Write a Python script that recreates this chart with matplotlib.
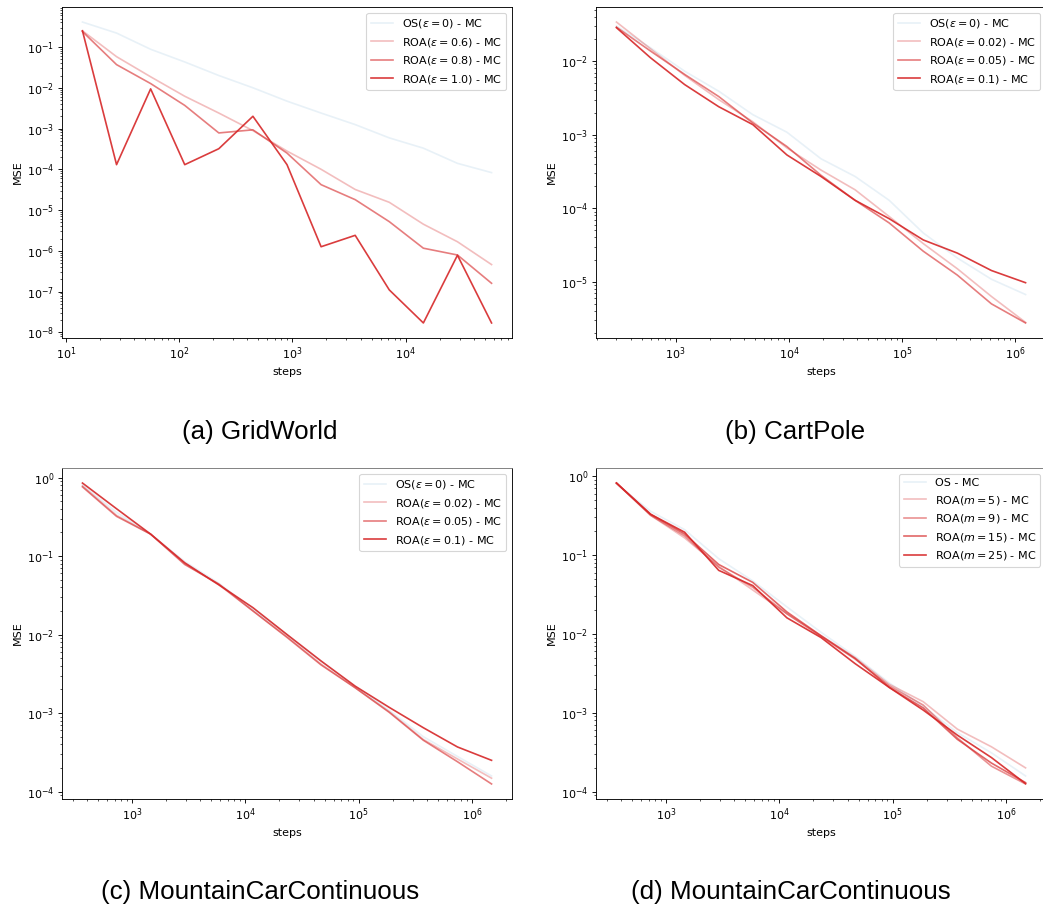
import numpy as np
from matplotlib import pyplot as plt

W, H = 1043, 911
DPI = 80

# ---- (a) GridWorld ----
steps_grid = [14, 28, 56, 112, 224, 448, 896, 1792, 3584, 7168, 14336, 28672, 57344]
grid_os = [0.41, 0.22, 0.088, 0.043, 0.020, 0.010, 0.0047, 0.0024, 0.00125, 0.00059, 0.00033, 0.00014, 8.3e-5]
grid_06 = [0.25, 0.058, 0.0186, 0.0062, 0.0024, 0.00089, 0.00028, 1.0e-4, 3.2e-5, 1.55e-5, 4.5e-6, 1.67e-6, 4.6e-7]
grid_08 = [0.24, 0.037, 0.0127, 0.0037, 0.00078, 0.00093, 0.00025, 4.2e-5, 1.8e-5, 5.2e-6, 1.16e-6, 7.9e-7, 1.6e-7]
grid_10 = [0.25, 1.3e-4, 0.0094, 1.3e-4, 3.2e-4, 0.002, 1.3e-4, 1.26e-6, 2.4e-6, 1.1e-7, 1.7e-8, 7.8e-7, 1.7e-8]

# ---- (b) CartPole ----
steps_cart = [300, 600, 1200, 2400, 4800, 9600, 19200, 38400, 76800, 153600, 307200, 614400, 1228800]
cart_os = [0.030, 0.0152, 0.0073, 0.0039, 0.00187, 0.00108, 0.00047, 0.00027, 0.000128, 4.6e-5, 2.1e-5, 1.08e-5, 6.7e-6]
cart_002 = [0.034, 0.0147, 0.0064, 0.0030, 0.0015, 0.00066, 0.00033, 0.000178, 7.7e-5, 3.3e-5, 1.5e-5, 6.3e-6, 2.8e-6]
cart_005 = [0.029, 0.0137, 0.0066, 0.0033, 0.00144, 0.00069, 0.00028, 0.000128, 6.3e-5, 2.6e-5, 1.23e-5, 5.0e-6, 2.75e-6]
cart_01 = [0.0285, 0.0111, 0.0048, 0.0024, 0.00137, 0.00053, 0.00027, 0.000128, 7.2e-5, 3.7e-5, 2.45e-5, 1.42e-5, 9.7e-6]

# ---- (c) MountainCarContinuous, epsilon ----
steps_mc = [364, 728, 1456, 2912, 5824, 11648, 23296, 46592, 93184, 186368, 372736, 745472, 1490944]
mc_os = [0.80, 0.36, 0.19, 0.085, 0.045, 0.021, 0.0100, 0.0046, 0.0022, 0.00108, 0.00050, 0.00028, 0.000158]
mc_002 = [0.78, 0.33, 0.19, 0.080, 0.043, 0.020, 0.0094, 0.0042, 0.0021, 0.00104, 0.00046, 0.00026, 0.000148]
mc_005 = [0.76, 0.32, 0.19, 0.078, 0.044, 0.020, 0.0092, 0.0041, 0.0021, 0.00102, 0.00045, 0.00024, 0.000125]
mc_01 = [0.85, 0.40, 0.19, 0.082, 0.043, 0.022, 0.0100, 0.0046, 0.0022, 0.00118, 0.00065, 0.00037, 0.00025]

# ---- (d) MountainCarContinuous, m ----
mcm_os = [0.80, 0.36, 0.21, 0.090, 0.047, 0.022, 0.0105, 0.0052, 0.0024, 0.0012, 0.00056, 0.00031, 0.000158]
mcm_5 = [0.82, 0.32, 0.165, 0.072, 0.036, 0.018, 0.0095, 0.0050, 0.0023, 0.00138, 0.00062, 0.00037, 0.0002]
mcm_9 = [0.82, 0.32, 0.175, 0.070, 0.039, 0.018, 0.0093, 0.0048, 0.0022, 0.00125, 0.00048, 0.00021, 0.000125]
mcm_15 = [0.82, 0.33, 0.185, 0.076, 0.045, 0.019, 0.0095, 0.0049, 0.0021, 0.00115, 0.00046, 0.00023, 0.00013]
mcm_25 = [0.82, 0.33, 0.195, 0.064, 0.041, 0.016, 0.0090, 0.0042, 0.0021, 0.00108, 0.00052, 0.00027, 0.000126]

RED = "tab:red"
BLUE = "tab:blue"


def px_axes(fig, left, top, right, bottom):
    return fig.add_axes([left / W, 1 - bottom / H, (right - left) / W, (bottom - top) / H])


def panel(ax, x, series):
    for y, label, color, alpha in series:
        ax.plot(x, y, color=color, alpha=alpha, label=label)
    ax.set_xscale("log")
    ax.set_yscale("log")
    ax.set_xlabel("steps")
    ax.set_ylabel("MSE")
    ax.legend(loc="upper right")


fig = plt.figure(figsize=(W / DPI, H / DPI), dpi=DPI)

ax = px_axes(fig, 62, 7, 512, 338)
panel(ax, steps_grid, [
    (grid_os, r"OS($\epsilon=0$) - MC", BLUE, 0.1),
    (grid_06, r"ROA($\epsilon=0.6$) - MC", RED, 0.3),
    (grid_08, r"ROA($\epsilon=0.8$) - MC", RED, 0.6),
    (grid_10, r"ROA($\epsilon=1.0$) - MC", RED, 0.9),
])

ax = px_axes(fig, 596, 7, 1046, 338)
panel(ax, steps_cart, [
    (cart_os, r"OS($\epsilon=0$) - MC", BLUE, 0.1),
    (cart_002, r"ROA($\epsilon=0.02$) - MC", RED, 0.3),
    (cart_005, r"ROA($\epsilon=0.05$) - MC", RED, 0.6),
    (cart_01, r"ROA($\epsilon=0.1$) - MC", RED, 0.9),
])

ax = px_axes(fig, 62, 468, 512, 799)
panel(ax, steps_mc, [
    (mc_os, r"OS($\epsilon=0$) - MC", BLUE, 0.1),
    (mc_002, r"ROA($\epsilon=0.02$) - MC", RED, 0.3),
    (mc_005, r"ROA($\epsilon=0.05$) - MC", RED, 0.6),
    (mc_01, r"ROA($\epsilon=0.1$) - MC", RED, 0.9),
])
ax.spines["top"].set_color("#777777")

ax = px_axes(fig, 596, 468, 1046, 799)
panel(ax, steps_mc, [
    (mcm_os, "OS - MC", BLUE, 0.1),
    (mcm_5, r"ROA($m=5$) - MC", RED, 0.3),
    (mcm_9, r"ROA($m=9$) - MC", RED, 0.5),
    (mcm_15, r"ROA($m=15$) - MC", RED, 0.7),
    (mcm_25, r"ROA($m=25$) - MC", RED, 0.9),
])
ax.spines["top"].set_color("#777777")

captions = [("(a) GridWorld", 260, 432), ("(b) CartPole", 795, 432),
            ("(c) MountainCarContinuous", 260, 892), ("(d) MountainCarContinuous", 791, 892)]
for text, cx, cy in captions:
    fig.text(cx / W, 1 - cy / H, text, ha="center", va="center",
             fontsize=23.4, family=["Liberation Sans", "DejaVu Sans"])

fig.savefig("out.png", dpi=DPI)
